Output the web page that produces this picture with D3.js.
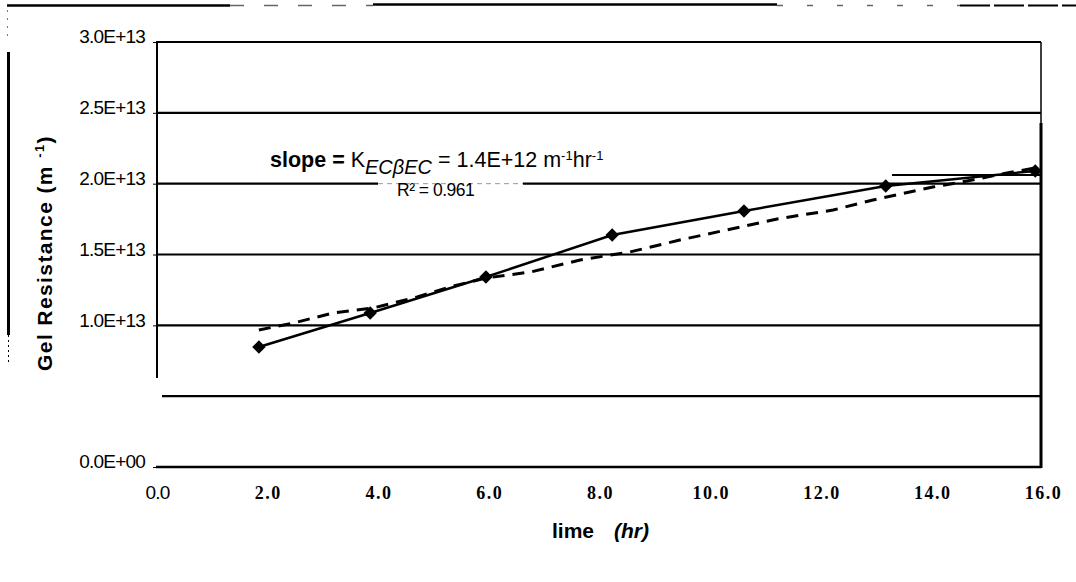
<!DOCTYPE html>
<html>
<head>
<meta charset="utf-8">
<script src="https://cdn.jsdelivr.net/npm/d3@7"></script>
<style>
  body { margin: 0; background: #fff; }
  svg { display: block; }
</style>
</head>
<body>
<div id="chart"></div>
<script>
// measured points (time in hr, gel resistance in m^-1)
const timeHr = [1.84, 3.85, 5.94, 8.22, 10.60, 13.16, 15.86];
const gelResistance = [8.47e12, 10.87e12, 13.41e12, 16.38e12, 18.07e12, 19.84e12, 20.9e12];

// dashed fit line
const fitTime = [1.84, 2.46, 3.18, 3.90, 4.70, 5.29, 5.94, 6.74, 7.64, 8.54, 9.44, 10.53, 11.20, 12.21, 12.93, 14.01, 14.63, 15.35, 15.95];
const fitResistance = [9.67e12, 10.16e12, 10.87e12, 11.22e12, 12.0e12, 12.71e12, 13.34e12, 13.76e12, 14.61e12, 15.18e12,
  16.02e12, 16.94e12, 17.51e12, 18.14e12, 18.85e12, 19.76e12, 20.19e12, 20.75e12, 21.18e12];

// axis ticks
const xTicks = [0, 2, 4, 6, 8, 10, 12, 14, 16];
const yTickLabels = [0, 1e13, 1.5e13, 2e13, 2.5e13, 3e13];
const yGridValues = [0, 5e12, 1e13, 1.5e13, 2e13, 2.5e13, 3e13];

const width = 1076, height = 582;
const margin = {top: 42, right: 33, bottom: 115, left: 157};

const svg = d3.select("#chart")
  .append("svg")
  .attr("width", width)
  .attr("height", height);

const x = d3.scaleLinear()
  .domain([0, 16])
  .range([margin.left, width - margin.right]);

const y = d3.scaleLinear()
  .domain([0, 3e13])
  .range([height - margin.bottom, margin.top]);

const plotRight = 1041;

// outer frame bits (scanned page border)
const frame = svg.append("g").attr("stroke", "#000").attr("fill", "none");
frame.append("line").attr("x1", 7).attr("x2", 230).attr("y1", 5.5).attr("y2", 5.5).attr("stroke-width", 2.5);
frame.append("line").attr("x1", 230).attr("x2", 373).attr("y1", 5.5).attr("y2", 5.5)
  .attr("stroke-width", 1.5).attr("stroke", "#666").attr("stroke-dasharray", "14,20");
frame.append("line").attr("x1", 373).attr("x2", 777).attr("y1", 4.5).attr("y2", 4.5).attr("stroke-width", 2.5);
frame.append("line").attr("x1", 777).attr("x2", 960).attr("y1", 5.5).attr("y2", 5.5)
  .attr("stroke-width", 1.5).attr("stroke", "#666").attr("stroke-dasharray", "6,24");
frame.append("line").attr("x1", 960).attr("x2", 1076).attr("y1", 5.5).attr("y2", 5.5)
  .attr("stroke-width", 2).attr("stroke-dasharray", "30,4");
frame.append("line").attr("x1", 8.5).attr("x2", 8.5).attr("y1", 52).attr("y2", 335).attr("stroke-width", 3);
frame.append("line").attr("x1", 8.5).attr("x2", 8.5).attr("y1", 335).attr("y2", 365)
  .attr("stroke-width", 1).attr("stroke-dasharray", "2,3");
frame.append("line").attr("x1", 7.5).attr("x2", 7.5).attr("y1", 10).attr("y2", 40)
  .attr("stroke-width", 1).attr("stroke", "#777").attr("stroke-dasharray", "2,6");

// horizontal gridlines
svg.append("g")
  .selectAll("line")
  .data(yGridValues)
  .join("line")
    .attr("x1", d => d === 5e12 ? margin.left + 5 : margin.left - 1)
    .attr("x2", plotRight)
    .attr("y1", d => y(d))
    .attr("y2", d => y(d))
    .attr("stroke", "#000")
    .attr("stroke-width", d => d === 0 ? 2.5 : 2.2);

// faint gap in the 2.0E+13 gridline behind the R² label, plus the stray segment above it
svg.append("rect").attr("x", 378).attr("y", y(2e13) - 3).attr("width", 145).attr("height", 6).attr("fill", "#fff");
svg.append("line").attr("x1", 378).attr("x2", 523).attr("y1", y(2e13)).attr("y2", y(2e13))
  .attr("stroke", "#999").attr("stroke-width", 1).attr("stroke-dasharray", "5,4");
svg.append("line").attr("x1", 892).attr("x2", 1040).attr("y1", 175).attr("y2", 175)
  .attr("stroke", "#000").attr("stroke-width", 2);

// plot borders
svg.append("line").attr("x1", margin.left).attr("x2", margin.left)
  .attr("y1", margin.top).attr("y2", 378).attr("stroke", "#000").attr("stroke-width", 2);
svg.append("line").attr("x1", plotRight).attr("x2", plotRight)
  .attr("y1", margin.top).attr("y2", 123).attr("stroke", "#000").attr("stroke-width", 1.5);
svg.append("line").attr("x1", plotRight).attr("x2", plotRight)
  .attr("y1", 123).attr("y2", y(0) + 1).attr("stroke", "#000").attr("stroke-width", 3);

// Y axis labels
const yAxis = svg.append("g")
  .attr("transform", `translate(${margin.left},0)`)
  .call(d3.axisLeft(y)
    .tickValues(yTickLabels)
    .tickSize(4)
    .tickPadding(8)
    .tickFormat(d => d === 0 ? "0.0E+00" : (d / 1e13).toFixed(1) + "E+13"));
yAxis.select(".domain").remove();
yAxis.selectAll("text")
  .attr("dy", "0.05em")
  .style("font-family", "'Liberation Sans', Arial, sans-serif")
  .style("font-size", "19px")
  .style("letter-spacing", "-0.8px")
  .attr("fill", "#000");

// X axis labels
const xAxis = svg.append("g")
  .attr("transform", `translate(0,${y(0)})`)
  .call(d3.axisBottom(x)
    .tickValues(xTicks)
    .tickSize(0)
    .tickPadding(19)
    .tickFormat(d3.format(".1f")));
xAxis.select(".domain").remove();
xAxis.selectAll("text")
  .attr("fill", "#000")
  .style("font-size", d => d === 0 ? "19px" : "18px")
  .style("font-family", d => d === 0 ? "'Liberation Sans', Arial, sans-serif" : "'Liberation Serif', 'Times New Roman', serif")
  .style("font-weight", d => d === 0 ? 400 : 700)
  .style("letter-spacing", d => d === 0 ? "-0.8px" : "1.5px");

// dashed fit line
const fitPoints = fitTime.map((t, i) => [t, fitResistance[i]]);
svg.append("path")
  .datum(fitPoints)
  .attr("fill", "none")
  .attr("stroke", "#000")
  .attr("stroke-width", 3)
  .attr("stroke-dasharray", "12,8")
  .attr("d", d3.line().x(d => x(d[0])).y(d => y(d[1])));

// measured data line + diamonds
const points = timeHr.map((t, i) => [t, gelResistance[i]]);
svg.append("path")
  .datum(points)
  .attr("fill", "none")
  .attr("stroke", "#000")
  .attr("stroke-width", 2.5)
  .attr("d", d3.line().x(d => x(d[0])).y(d => y(d[1])));

svg.append("g")
  .selectAll("path")
  .data(points)
  .join("path")
    .attr("d", d3.symbol().type(d3.symbolSquare).size(90))
    .attr("transform", d => `translate(${x(d[0])},${y(d[1])}) rotate(45)`)
    .attr("fill", "#000");

// slope annotation
const note = svg.append("text")
  .attr("x", 270)
  .attr("y", 167)
  .style("font-family", "'Liberation Sans', Arial, sans-serif")
  .style("font-size", "21.5px")
  .attr("fill", "#000");
note.append("tspan").style("font-weight", 700).text("slope = ");
note.append("tspan").text("K");
note.append("tspan").attr("dy", 7).style("font-size", "20px").style("font-style", "italic").text("ECβEC");
note.append("tspan").attr("dy", -7).text(" = 1.4E+12 m");
note.append("tspan").attr("dy", -7).style("font-size", "13px").text("-1");
note.append("tspan").attr("dy", 7).text("hr");
note.append("tspan").attr("dy", -7).style("font-size", "13px").text("-1");

svg.append("text")
  .attr("x", 397)
  .attr("y", 196)
  .style("font-family", "'Liberation Sans', Arial, sans-serif")
  .style("font-size", "17.5px")
  .style("letter-spacing", "-0.5px")
  .attr("fill", "#000")
  .text("R² = 0.961");

// y label
const yLabel = svg.append("text")
  .attr("transform", "translate(52,253) rotate(-90)")
  .attr("text-anchor", "middle")
  .style("font-family", "'Liberation Sans', Arial, sans-serif")
  .style("font-size", "21px")
  .style("font-weight", 700)
  .style("letter-spacing", "1.4px")
  .attr("fill", "#000");
yLabel.append("tspan").text("Gel Resistance  (m ");
yLabel.append("tspan").attr("dy", -8).style("font-size", "13px").text("-1");
yLabel.append("tspan").attr("dy", 8).text(")");

// x label
const xLabel = svg.append("text")
  .attr("x", 552)
  .attr("y", 538)
  .style("font-family", "'Liberation Sans', Arial, sans-serif")
  .style("font-size", "21px")
  .style("font-weight", 700)
  .attr("fill", "#000");
xLabel.append("tspan").text("lime");
xLabel.append("tspan").attr("x", 614).style("font-style", "italic").text("(hr)");
</script>
</body>
</html>
